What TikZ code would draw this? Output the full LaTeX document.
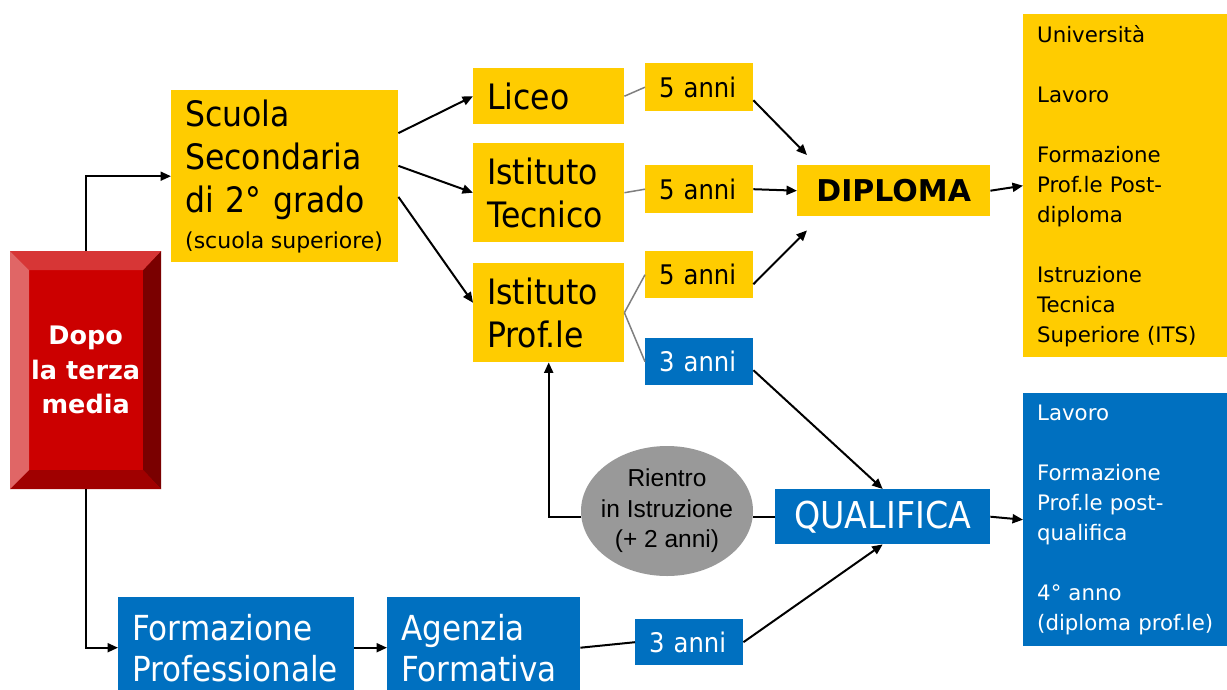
\documentclass[tikz,border=0pt]{standalone}
\usepackage{fontspec}
\setmainfont{DejaVu Sans}
\newfontfamily\narrowfont[FakeStretch=0.9]{DejaVu Sans}
\newfontfamily\arialfont{Liberation Sans}
\usetikzlibrary{calc,arrows.meta,shapes.geometric}
\definecolor{gialloscuola}{HTML}{FFCC00}
\definecolor{bluformaz}{HTML}{0070C0}
\definecolor{grigiolinea}{HTML}{7F7F7F}
\definecolor{grigioovale}{HTML}{999999}
\definecolor{rossopieno}{HTML}{CC0000}
\definecolor{rossoalto}{HTML}{D73636}
\definecolor{rossosx}{HTML}{E06666}
\definecolor{rossodx}{HTML}{7A0000}
\definecolor{rossobasso}{HTML}{A00000}

\begin{document}
\begin{tikzpicture}[x=1pt,y=-1pt,
  casella/.style={anchor=north west,inner xsep=14pt,inner ysep=0pt,align=left},
  giallo/.style={casella,fill=gialloscuola},
  blu/.style={casella,fill=bluformaz,text=white},
  grande/.style={font=\narrowfont\fontsize{35}{43}\selectfont},
  durata/.style={text width=80pt,font=\narrowfont\fontsize{27}{32}\selectfont},
  sbocchi/.style={text width=196pt,font=\fontsize{21.3}{30}\selectfont},
  freccia/.style={-{Triangle[length=10.5pt,width=9pt]},line width=2pt},
  raccordo/.style={line width=1.5pt,draw=grigiolinea},
  smussato/.style={path picture={
    \fill[rossopieno] (path picture bounding box.north west) rectangle (path picture bounding box.south east);
    \fill[rossoalto] (path picture bounding box.north west) -- (path picture bounding box.north east)
      -- ($(path picture bounding box.north east)+(-18,19)$) -- ($(path picture bounding box.north west)+(19,19)$) -- cycle;
    \fill[rossosx] (path picture bounding box.north west) -- ($(path picture bounding box.north west)+(19,19)$)
      -- ($(path picture bounding box.south west)+(19,-19)$) -- (path picture bounding box.south west) -- cycle;
    \fill[rossodx] (path picture bounding box.north east) -- ($(path picture bounding box.north east)+(-18,19)$)
      -- ($(path picture bounding box.south east)+(-18,-19)$) -- (path picture bounding box.south east) -- cycle;
    \fill[rossobasso] (path picture bounding box.south west) -- ($(path picture bounding box.south west)+(19,-19)$)
      -- ($(path picture bounding box.south east)+(-18,-19)$) -- (path picture bounding box.south east) -- cycle;
  }}]
\useasboundingbox (0,0) rectangle (1227,689);
\clip (0,0) rectangle (1227,689);

\node[casella,align=center,inner sep=0pt,minimum width=151pt,minimum height=238pt,text=white,
  font=\bfseries\fontsize{25.5}{34.5}\selectfont,smussato] (dopo) at (10,251) {Dopo\\la terza\\media};

\node[giallo,grande,text width=199pt,minimum height=172pt] (scuola) at (171,90)
  {Scuola\\Secondaria\\di 2° grado\\[-7pt]{\normalfont\fontsize{22}{24}\selectfont\spaceskip=6.5pt (scuola superiore)}};
\node[giallo,grande,text width=123pt,minimum height=56pt] (liceo) at (473,68) {Liceo};
\node[giallo,grande,text width=123pt,minimum height=99pt] (tecnico) at (473,143) {Istituto\\Tecnico};
\node[giallo,grande,text width=123pt,minimum height=99pt] (prof) at (473,263) {Istituto\\Prof.le};

\node[giallo,durata,minimum height=48pt] (anni1) at (645,63) {5 anni};
\node[giallo,durata,minimum height=48pt] (anni2) at (645,165) {5 anni};
\node[giallo,durata,minimum height=47pt] (anni3) at (645,251) {5 anni};
\node[blu,durata,minimum height=47pt] (tre) at (645,338) {3 anni};

\node[giallo,align=center,inner xsep=0pt,minimum width=193pt,minimum height=51pt,
  font=\bfseries\fontsize{30}{36}\selectfont] (diploma) at (797,165) {DIPLOMA};
\node[giallo,sbocchi,minimum height=343pt] (postdiploma) at (1023,14)
  {Università\\[30pt]Lavoro\\[30pt]Formazione\\Prof.le Post-\\diploma\\[30pt]Istruzione\\Tecnica\\Superiore (ITS)};

\node[blu,align=center,inner xsep=0pt,minimum width=215pt,minimum height=55pt,
  font=\narrowfont\fontsize{37}{44}\selectfont] (qualifica) at (775,489) {QUALIFICA};
\node[blu,sbocchi,minimum height=253pt] (postqualifica) at (1023,393)
  {Lavoro\\[30pt]Formazione\\Prof.le post-\\qualifica\\[30pt]4° anno\\(diploma prof.le)};

\node[blu,text width=208pt,minimum height=101pt,font=\narrowfont\fontsize{34.5}{41}\selectfont] (formazione) at (118,597) {Formazione\\Professionale};
\node[blu,text width=165pt,minimum height=101pt,font=\narrowfont\fontsize{34.5}{41}\selectfont] (agenzia) at (387,597) {Agenzia\\Formativa};
\node[blu,durata,minimum height=46pt] (trebis) at (635,619) {3 anni};

% percorsi
\draw[freccia] (dopo.north) |- (scuola.west);
\draw[freccia] (dopo.south) |- (formazione.west);
\draw[freccia] ($(scuola.north east)!.25!(scuola.south east)$) -- (liceo.west);
\draw[freccia] ($(scuola.north east)!.44!(scuola.south east)$) -- (tecnico.west);
\draw[freccia] ($(scuola.north east)!.62!(scuola.south east)$) -- ($(prof.north west)!.4!(prof.south west)$);
\draw[raccordo] (liceo.east) -- (anni1.west);
\draw[raccordo] (tecnico.east) -- (anni2.west);
\draw[raccordo] (prof.east) -- (anni3.west);
\draw[raccordo] (prof.east) -- (tre.west);
\draw[freccia] ($(anni1.north east)!.77!(anni1.south east)$) -- ($(diploma.north west)+(10,-10)$);
\draw[freccia] (anni2.east) -- (diploma.west);
\draw[freccia] ($(anni3.north east)!.7!(anni3.south east)$) -- ($(diploma.south west)+(10,14)$);
\draw[freccia] (diploma.east) -- (postdiploma.west);
\draw[freccia] ($(tre.north east)!.68!(tre.south east)$) -- (qualifica.north);
\draw[freccia] (qualifica.east) -- (postqualifica.west);
\draw[freccia] (formazione.east) -- (agenzia.west);
\draw[line width=2pt] (agenzia.east) -- (trebis.west);
\draw[freccia] (trebis.east) -- (qualifica.south);

% rientro
\node[ellipse,fill=grigioovale,minimum width=172pt,minimum height=130pt,inner xsep=-8pt,inner ysep=0pt,align=center,
  font=\arialfont\fontsize{24.5}{30.5}\selectfont] (rientro) at (667,511) {Rientro\\in Istruzione\\(+ 2 anni)};
\draw[line width=2pt] (qualifica.west) -- (qualifica.west -| rientro.east);
\draw[freccia] (qualifica.west -| rientro.west) -| (prof.south);
\end{tikzpicture}
\end{document}
